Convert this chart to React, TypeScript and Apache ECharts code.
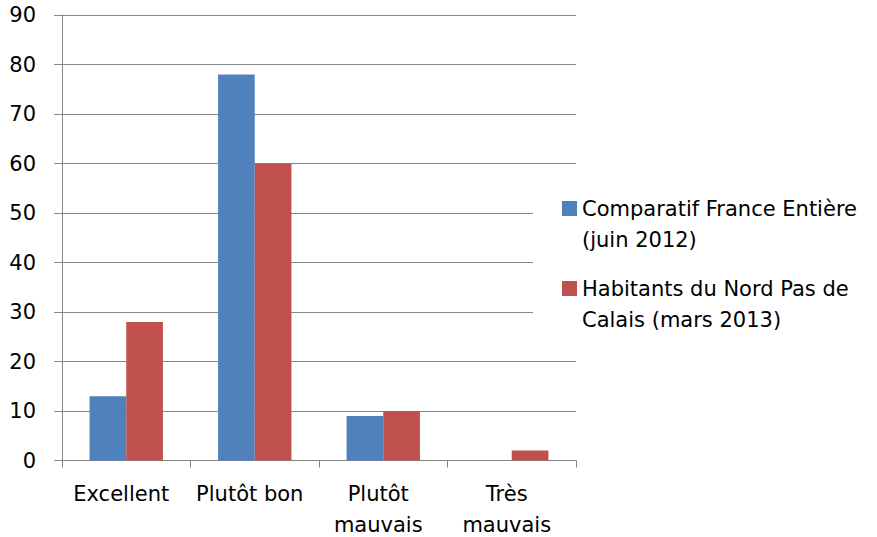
import React, { useEffect, useRef } from "react";
import * as echarts from "echarts";

const categories = ["Excellent", "Plutôt bon", "Plutôt\nmauvais", "Très\nmauvais"];
const seriesNames = ["Comparatif France Entière (juin 2012)", "Habitants du Nord Pas de Calais (mars 2013)"];
const legendLines = [
  ["Comparatif France Entière", "(juin 2012)"],
  ["Habitants du Nord Pas de", "Calais (mars 2013)"],
];
const franceValues = [13, 78, 9, 0];
const nordValues = [28, 60, 10, 2];
const yMin = 0;
const yMax = 90;
const yInterval = 10;

const FONT = "'DejaVu Sans', sans-serif";
const FS = 21;
const GRID = "#868686";

export default function App() {
  const ref = useRef<HTMLDivElement>(null);
  useEffect(() => {
    if (!ref.current) return;
    const chart = echarts.init(ref.current, undefined, { renderer: "svg" });
    chart.setOption({
      animation: false,
      backgroundColor: "#fff",
      textStyle: { fontFamily: FONT },
      grid: {
        left: 62,
        right: 301,
        top: 15,
        bottom: 76.5,
        containLabel: false,
        outerBoundsMode: "none",
      },
      graphic: [
        {
          type: "rect",
          z: 1,
          shape: { x: 533, y: 168, width: 344, height: 188 },
          style: { fill: "#fff" },
          silent: true,
        },
      ],
      legend: {
        orient: "vertical",
        left: 562,
        top: 162,
        padding: 0,
        itemGap: -13,
        itemWidth: 15,
        itemHeight: 15,
        icon: "rect",
        z: 5,
        data: seriesNames,
        formatter: (name: string) => "\n" + legendLines[seriesNames.indexOf(name)].join("\n"),
        textStyle: {
          fontFamily: FONT,
          fontSize: FS,
          lineHeight: 31,
          color: "#000",
        },
      },
      xAxis: {
        type: "category",
        data: categories,
        axisLine: { show: true, lineStyle: { color: GRID, width: 1 } },
        axisTick: { show: true, length: 7, lineStyle: { color: GRID } },
        axisLabel: {
          fontFamily: FONT,
          fontSize: FS,
          lineHeight: 31,
          color: "#000",
          margin: 18,
          interval: 0,
          padding: [0, 10, 0, 0],
        },
      },
      yAxis: {
        type: "value",
        min: yMin,
        max: yMax,
        interval: yInterval,
        axisLine: { show: true, lineStyle: { color: GRID, width: 1 } },
        axisTick: { show: true, length: 8, lineStyle: { color: GRID } },
        splitLine: { show: true, lineStyle: { color: GRID, width: 1 } },
        axisLabel: { fontFamily: FONT, fontSize: FS, color: "#000", margin: 26, padding: [5, 0, 0, 0] },
      },
      series: [
        {
          name: seriesNames[0],
          type: "bar",
          data: franceValues,
          barGap: "0%",
          barCategoryGap: "42.9%",
          itemStyle: { color: "#4F81BD" },
        },
        {
          name: seriesNames[1],
          type: "bar",
          data: nordValues,
          barGap: "0%",
          barCategoryGap: "42.9%",
          itemStyle: { color: "#C0504D" },
        },
      ],
    });
    return () => chart.dispose();
  }, []);
  return (
    <div
      ref={ref}
      style={{ position: "fixed", left: 0, top: 0, width: 877, height: 537, background: "#fff" }}
    />
  );
}
